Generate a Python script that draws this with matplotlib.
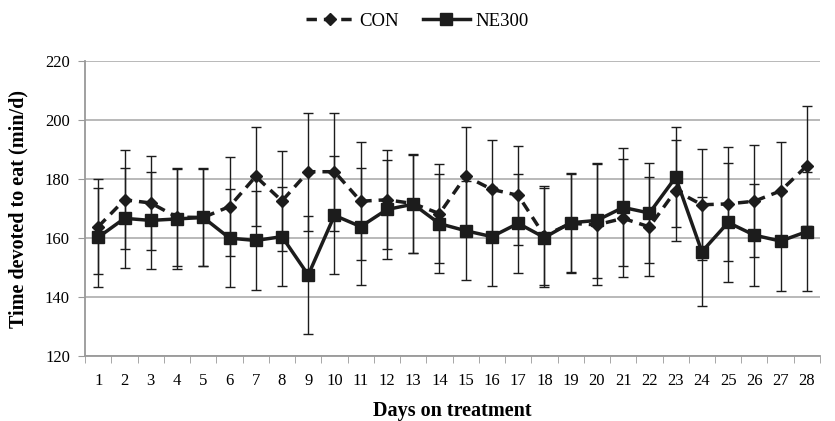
import matplotlib
matplotlib.use("Agg")
import matplotlib.pyplot as plt

plt.rcParams['font.family'] = ['Liberation Serif', 'DejaVu Serif']

days = list(range(1, 29))

con_mean = [163.9, 173.0, 171.9, 167.1, 167.0, 170.7, 180.9, 172.6, 182.5, 182.5,
            172.5, 173.0, 171.7, 168.3, 181.0, 176.5, 174.5, 160.8, 165.0, 164.5,
            166.7, 163.8, 176.1, 171.3, 171.6, 172.5, 176.0, 184.5]
con_err = [16.2, 16.8, 16.0, 16.7, 16.3, 16.7, 16.8, 16.8, 20.0, 20.0,
           20.0, 16.8, 16.8, 16.8, 16.8, 16.9, 16.8, 16.8, 16.8, 20.5,
           20.0, 16.8, 17.1, 18.8, 19.3, 18.9, 16.5, 20.3]

ne_mean = [160.3, 166.7, 166.0, 166.5, 167.0, 160.0, 159.2, 160.5, 147.5, 167.7,
           163.9, 169.7, 171.5, 164.9, 162.5, 160.5, 165.0, 160.2, 165.2, 166.0,
           170.4, 168.5, 180.6, 155.4, 165.3, 161.0, 159.0, 162.2]
ne_err = [16.8, 16.9, 16.3, 16.9, 16.6, 16.7, 16.8, 16.8, 20.0, 20.0,
          19.9, 16.8, 16.6, 16.8, 16.8, 16.8, 16.8, 16.8, 16.8, 19.5,
          20.0, 16.8, 17.0, 18.5, 20.3, 17.2, 17.0, 20.1]

fig = plt.figure(figsize=(8.35, 4.21), dpi=100)
ax = fig.add_axes([0.102, 0.154, 0.880, 0.701])

dark = '#1c1c1c'

ax.errorbar(days, con_mean, yerr=con_err, fmt='none', ecolor=dark,
            elinewidth=1, capsize=3.5, capthick=1, zorder=2)
ax.errorbar(days, ne_mean, yerr=ne_err, fmt='none', ecolor=dark,
            elinewidth=1, capsize=3.5, capthick=1, zorder=2)
ax.plot(days, con_mean, linestyle=(0, (3, 2)), color=dark, linewidth=2.5,
        marker='D', markersize=6.5, label='CON', zorder=3)
ax.plot(days, ne_mean, linestyle='-', color=dark, linewidth=2.5,
        marker='s', markersize=9, label='NE300', zorder=3)

ax.set_xlim(0.5, 28.5)
ax.set_ylim(120, 220)
ax.set_yticks(range(120, 221, 20))
ax.set_xticks(days)
ax.set_xticks([d + 0.5 for d in range(0, 29)], minor=True)
ax.tick_params(axis='x', which='major', length=0, labelsize=12, pad=12)
ax.tick_params(axis='x', which='minor', length=5, color='#999999')
ax.tick_params(axis='y', length=5, color='#999999', labelsize=12, pad=6)

ax.yaxis.grid(True, color='#b3b3b3', linewidth=1.3)
ax.set_axisbelow(True)
for s in ['top', 'right']:
    ax.spines[s].set_visible(False)
for s in ['left', 'bottom']:
    ax.spines[s].set_color('#999999')
    ax.spines[s].set_linewidth(1.3)

ax.set_xlabel('Days on treatment', fontsize=14.5, fontweight='bold', labelpad=9)
ax.set_ylabel('Time devoted to eat (min/d)', fontsize=14.5, fontweight='bold', labelpad=12)

fig.legend(loc='upper center', bbox_to_anchor=(0.5, 1.01), ncol=2, frameon=False,
           fontsize=13.5, handlelength=2.5, columnspacing=1.3, handletextpad=0.3)

fig.savefig('out.png', dpi=100)
